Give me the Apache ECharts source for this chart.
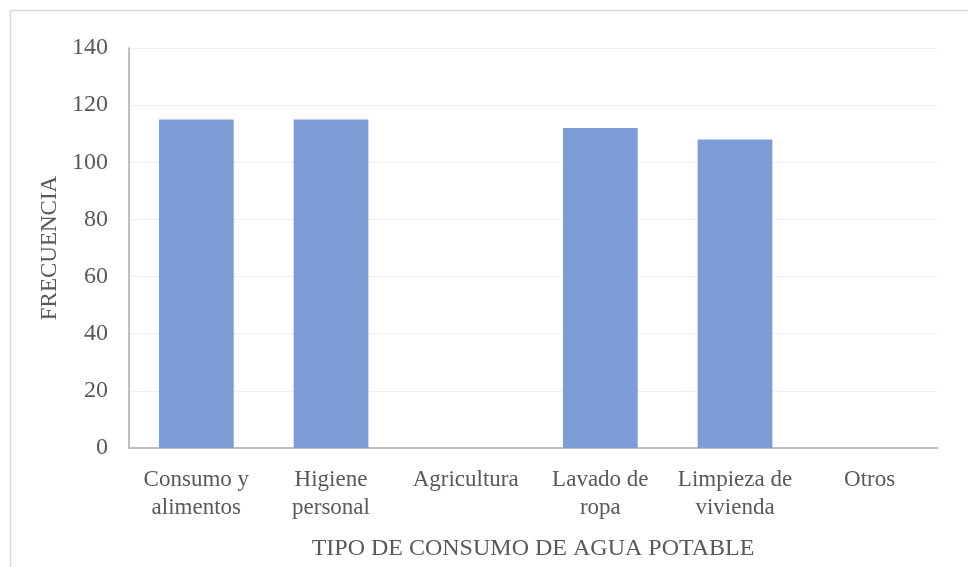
<!DOCTYPE html>
<html>
<head>
<meta charset="utf-8">
<script src="https://cdn.jsdelivr.net/npm/echarts@6/dist/echarts.min.js"></script>
<style>
html,body{margin:0;padding:0;background:#fff;}
#chart{width:968px;height:567px;}
</style>
</head>
<body>
<div id="chart"></div>
<script>
const categories = ["Consumo y\nalimentos", "Higiene\npersonal", "Agricultura", "Lavado de\nropa", "Limpieza de\nvivienda", "Otros"];
const frecuencia = [115, 115, 0, 112, 108, 0];
const yTicks = [0, 20, 40, 60, 80, 100, 120, 140];
const xAxisTitle = "TIPO DE CONSUMO DE AGUA POTABLE";
const yAxisTitle = "FRECUENCIA";

const chart = echarts.init(document.getElementById('chart'), null, {renderer: 'canvas'});
const font = "'Liberation Serif', 'Times New Roman', serif";
chart.setOption({
  animation: false,
  backgroundColor: '#ffffff',
  graphic: [{
    type: 'rect',
    shape: {x: 10.5, y: 10.5, width: 1000, height: 600},
    style: {fill: 'none', stroke: '#d9d9d9', lineWidth: 1.5},
    silent: true
  }],
  grid: {left: 129, right: 31, top: 48, bottom: 119},
  xAxis: {
    type: 'category',
    data: categories,
    axisLine: {show: true, lineStyle: {color: '#bfbfbf', width: 2}},
    axisTick: {show: false},
    axisLabel: {color: '#595959', fontFamily: font, fontSize: 23, lineHeight: 28, margin: 18, interval: 0},
    name: xAxisTitle,
    nameLocation: 'middle',
    nameGap: 89,
    nameTextStyle: {color: '#595959', fontFamily: font, fontSize: 24}
  },
  yAxis: {
    type: 'value',
    min: yTicks[0],
    max: yTicks[yTicks.length - 1],
    interval: yTicks[1] - yTicks[0],
    axisLine: {show: true, lineStyle: {color: '#bfbfbf', width: 2}},
    axisTick: {show: false},
    splitLine: {show: true, lineStyle: {color: '#efefef', width: 1}},
    axisLabel: {color: '#595959', fontFamily: font, fontSize: 24, margin: 21},
    name: yAxisTitle,
    nameLocation: 'middle',
    nameGap: 61,
    nameRotate: 90,
    nameTextStyle: {color: '#595959', fontFamily: font, fontSize: 23}
  },
  series: [{
    type: 'bar',
    data: frecuencia,
    barWidth: '55.5%',
    itemStyle: {color: '#7b9cd5'}
  }]
});
</script>
</body>
</html>
